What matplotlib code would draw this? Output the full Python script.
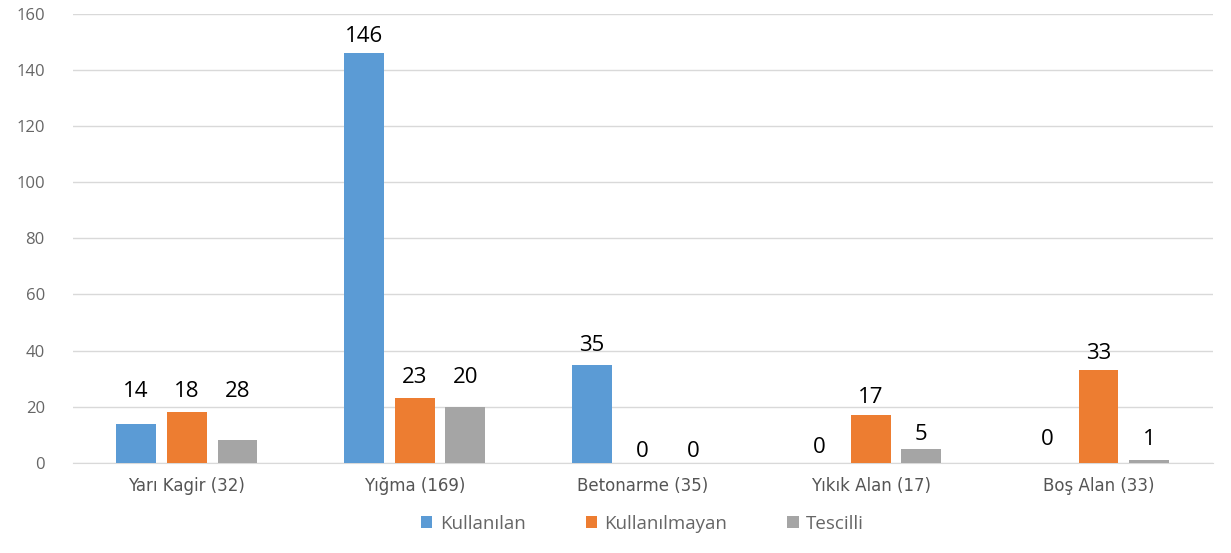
import matplotlib.pyplot as plt
import numpy as np

categories = ["Yarı Kagir (32)", "Yığma (169)", "Betonarme (35)", "Yıkık Alan (17)", "Boş Alan (33)"]
series_names = ["Kullanılan", "Kullanılmayan", "Tescilli"]
kullanilan = [14, 146, 35, 0, 0]
kullanilmayan = [18, 23, 0, 17, 33]
tescilli = [8, 20, 0, 5, 1]
# labels as printed on the chart (the first grey one does not match its bar)
kullanilan_lbl = ["14", "146", "35", "0", "0"]
kullanilmayan_lbl = ["18", "23", "0", "17", "33"]
tescilli_lbl = ["28", "20", "0", "5", "1"]

colors = ["#5B9BD5", "#ED7D31", "#A5A5A5"]

# where the labels sit (data units), they were placed by hand in the original
label_y = [
    [25.3, 151.8, 41.7, 5.3, 8.2],
    [25.3, 30.3, 3.9, 23.2, 38.8],
    [25.3, 30.3, 3.9, 10.0, 8.2],
]

fig = plt.figure(figsize=(12.31, 5.53), dpi=100)
ax = fig.add_axes([0.059, 0.163, 0.926, 0.812])

x = np.arange(len(categories))
w = 0.175
step = 0.223
values = [kullanilan, kullanilmayan, tescilli]
labels = [kullanilan_lbl, kullanilmayan_lbl, tescilli_lbl]
for i in range(3):
    pos = x + (i - 1) * step
    ax.bar(pos, values[i], width=w, color=colors[i], label=series_names[i], zorder=3)
    for j in range(len(categories)):
        ax.text(pos[j], label_y[i][j], labels[i][j], ha="center", va="center",
                fontsize=16, color="#000000", family=["Open Sans", "DejaVu Sans"])

ax.set_xlim(-0.5, 4.5)
ax.set_ylim(0, 160)
ax.set_yticks(range(0, 161, 20))
ax.set_xticks(x)
ax.set_xticklabels(categories, fontsize=12, color="#555555", family=["Liberation Sans Narrow", "DejaVu Sans"])
for t in ax.get_yticklabels():
    t.set_fontsize(12)
    t.set_color("#666666")
    t.set_family(["Open Sans", "DejaVu Sans"])
ax.grid(axis="y", color="#D9D9D9", linewidth=1, zorder=0)
for s in ["top", "right", "left"]:
    ax.spines[s].set_visible(False)
ax.spines["bottom"].set_color("#D9D9D9")
ax.tick_params(axis="x", length=0, pad=10)
ax.tick_params(axis="y", length=0, pad=20)

leg = ax.legend(loc="upper center", bbox_to_anchor=(0.5, -0.078), ncol=3, frameon=False,
                handlelength=0.6, handleheight=0.6, handletextpad=0.4, columnspacing=3.2,
                prop={"family": ["Open Sans", "DejaVu Sans"], "size": 13.5})
for t in leg.get_texts():
    t.set_color("#666666")

plt.savefig("out.png", dpi=100)
